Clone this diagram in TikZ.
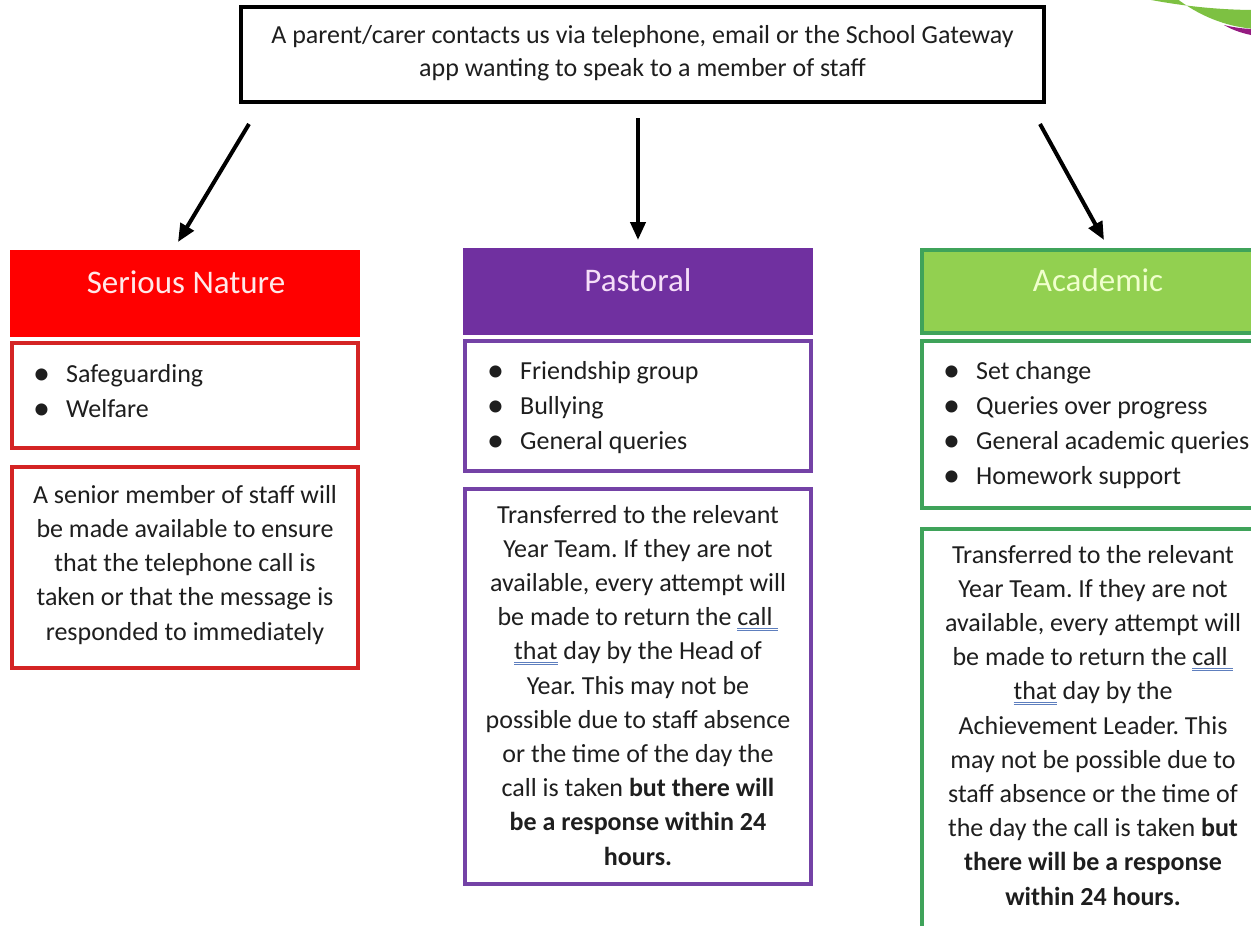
\documentclass[tikz,border=0pt]{standalone}
\usepackage{fontspec}
\setmainfont{Carlito}
\frenchspacing
\usetikzlibrary{arrows.meta}
\definecolor{sred}{HTML}{FF0000}
\definecolor{sredb}{HTML}{D42424}
\definecolor{ppur}{HTML}{7030A0}
\definecolor{ppurb}{HTML}{7442A6}
\definecolor{agrn}{HTML}{92D050}
\definecolor{agrnb}{HTML}{3FA35A}
\definecolor{txt}{HTML}{1E1E1E}
\definecolor{ulblue}{HTML}{5E7FBE}
\definecolor{swgreen}{HTML}{7DC142}
\definecolor{swpurple}{HTML}{951B81}
\newcommand\dblul[1]{\setbox0=\hbox{#1}\rlap{\color{ulblue}\raisebox{-2.8pt}{\rule{\wd0}{0.9pt}}}\rlap{\color{ulblue}\raisebox{-5.2pt}{\rule{\wd0}{0.9pt}}}\box0\relax}
\tikzset{
  box/.style={draw, line width=3.2pt, anchor=north west, inner sep=0pt, outer sep=0pt},
  headtxt/.style={font=\fontsize{33}{40}\selectfont, inner sep=0pt, anchor=base},
  body/.style={font=\fontsize{26}{34.2}\selectfont, text=txt, inner sep=0pt, align=center, anchor=base},
  blist/.style={font=\fontsize{26}{35}\selectfont, text=txt, inner sep=0pt, align=left, anchor=base west},
  arr/.style={line width=4pt, -{Triangle[length=18pt,width=15pt]}},
}
\newcommand\bul{\makebox[33pt][l]{\raisebox{-2pt}{\fontsize{34}{34}\selectfont\textbullet}}}
\begin{document}
\begin{tikzpicture}[x=1pt,y=-1pt]
\useasboundingbox[fill=white] (0,0) rectangle (1251,926);

% decorative swoosh top right
\fill[swgreen] (1141,-2) .. controls (1175,5) and (1215,10) .. (1256,10)
  -- (1256,29) .. controls (1225,27) and (1198,15) .. (1176,-2) -- cycle;
\fill[swpurple] (1224,25) .. controls (1236,28) and (1246,29) .. (1256,29)
  -- (1256,36) .. controls (1245,34) and (1234,31) .. cycle;

% top box
\node[box, line width=3.4pt, minimum width=803pt, minimum height=95pt] (top) at (241,7) {};
\node[body, font=\fontsize{26}{33}\selectfont] (toptxt) at ([yshift=-69pt]top.north)
  {A parent/carer contacts us via telephone, email or the School Gateway\\app wanting to speak to a member of staff};

% headers
\node[box, draw=sred, fill=sred, minimum width=346pt, minimum height=83pt] (sh) at (12,252) {};
\node[headtxt, text={rgb,255:red,255;green,232;blue,232}] (sht) at ([xshift=1pt,yshift=-41pt]sh.north) {Serious Nature};
\node[box, draw=ppur, fill=ppur, minimum width=346pt, minimum height=83pt] (ph) at (465,250) {};
\node[headtxt, text={rgb,255:red,245;green,222;blue,248}] (pht) at ([yshift=-41pt]ph.north) {Pastoral};
\node[box, draw=agrnb, fill=agrn, minimum width=346pt, minimum height=83pt] (ah) at (922,250) {};
\node[headtxt, text={rgb,255:red,240;green,255;blue,205}] (aht) at ([xshift=3pt,yshift=-41pt]ah.north) {Academic};

% bullet boxes
\node[box, draw=sredb, minimum width=346pt, minimum height=105pt] (sb) at (12,343) {};
\node[blist] (sbt) at ([xshift=21pt,yshift=-74pt]sb.north west) {\bul Safeguarding\\\bul Welfare};
\node[box, draw=ppurb, minimum width=346pt, minimum height=130pt] (pb) at (465,341) {};
\node[blist] (pbt) at ([xshift=22pt,yshift=-108pt]pb.north west) {\bul Friendship group\\\bul Bullying\\\bul General queries};
\node[box, draw=agrnb, minimum width=346pt, minimum height=167pt] (ab) at (922,341) {};
\node[blist] (abt) at ([xshift=21pt,yshift=-143pt]ab.north west) {\bul Set change\\\bul Queries over progress\\\bul General academic queries\\\bul Homework support};

% text boxes
\node[box, draw=sredb, minimum width=346pt, minimum height=201pt] (st) at (12,467) {};
\node[body] (stt) at ([yshift=-173pt]st.north)
  {A senior member of staff will\\be made available to ensure\\that the telephone call is\\taken or that the message is\\responded to immediately};
\node[box, draw=ppurb, minimum width=346pt, minimum height=395pt] (pt) at (465,489) {};
\node[body] (ptt) at ([yshift=-376pt]pt.north)
  {Transferred to the relevant\\Year Team. If they are not\\available, every attempt will\\be made to return the \dblul{call\ }\\\dblul{that} day by the Head of\\Year. This may not be\\possible due to staff absence\\or the time of the day the\\call is taken \textbf{but there will}\\\textbf{be a response within 24}\\\textbf{hours.}};
\node[box, draw=agrnb, minimum width=346pt, minimum height=420pt] (at) at (922,529) {};
\node[body] (att) at ([xshift=-2pt,yshift=-376pt]at.north)
  {Transferred to the relevant\\Year Team. If they are not\\available, every attempt will\\be made to return the \dblul{call\ }\\\dblul{that} day by the\\Achievement Leader. This\\may not be possible due to\\staff absence or the time of\\the day the call is taken \textbf{but}\\\textbf{there will be a response}\\\textbf{within 24 hours.}};

% arrows
\draw[arr] ([shift={(8,22)}]top.south west) -- ([shift={(166,-10)}]sh.north west);
\draw[arr] ([shift={(-4.5,16)}]top.south) -- ([yshift=10pt]ph.north);
\draw[arr] ([shift={(-4,22)}]top.south east) -- ([shift={(182,-10)}]ah.north west);
\end{tikzpicture}
\end{document}
